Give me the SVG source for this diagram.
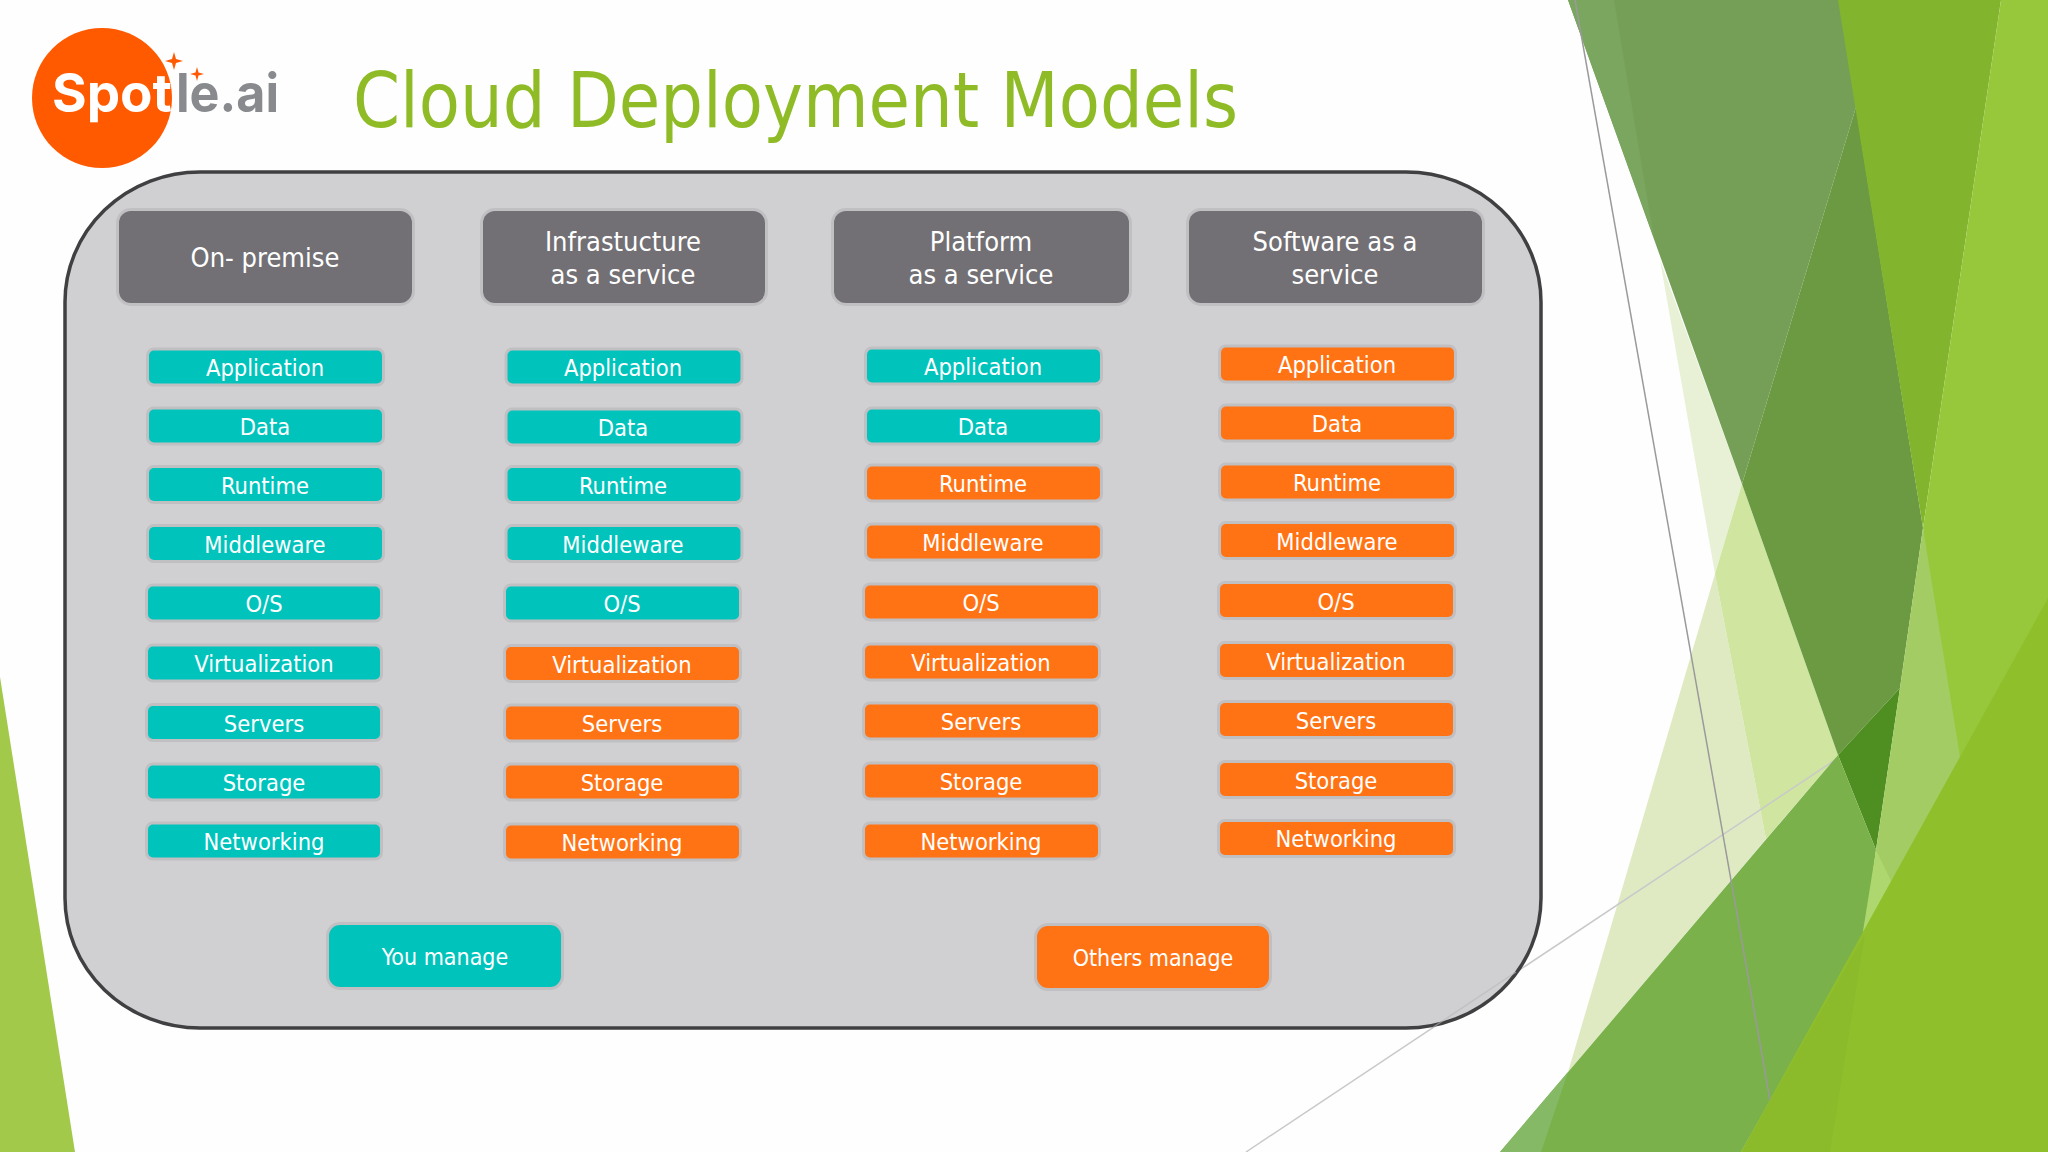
<svg xmlns="http://www.w3.org/2000/svg" width="2048" height="1152" viewBox="0 0 2048 1152">
<style>
text{font-family:"DejaVu Sans","Liberation Sans",sans-serif;font-stretch:condensed;fill:#fff;text-anchor:middle}
.panel{fill:#d0cfd2;stroke:#404042;stroke-width:3.5}
.hd{fill:#727074;stroke:#c0bfc2;stroke-width:6;paint-order:stroke}
.hd-t{font-size:27px}
.t{fill:#00c4bc;stroke:#c0bfc2;stroke-width:6;paint-order:stroke}
.o{fill:#ff7315;stroke:#c0bfc2;stroke-width:6;paint-order:stroke}
.l{font-size:23.5px}
.m{font-size:23px}
.title{font-size:76px;fill:#8fbc26;text-anchor:start}
.logo{font-family:"Inter","Open Sans",sans-serif;font-stretch:normal;font-weight:700;font-size:53px;text-anchor:start}
</style>
<rect width="2048" height="1152" fill="#fefefe"/>
<g id="background">
<polygon points="0,677 75,1152 0,1152" fill="#a2c94a"/>
<polygon points="1660,260 1742,484 1715,574" fill="#e8f1d6"/>
<polygon points="1715,574 1766,839 1568,1072" fill="#dfeac3"/>
<polygon points="1742,484 1715,574 1766,839 1838,755" fill="#cfe5a0"/>
<line x1="1246" y1="1152" x2="1838" y2="758" stroke="#c9c9ca" stroke-width="1.5"/>
<polygon points="1568,0 1839,0 1856,107 1742,484" fill="#759f56"/>
<polygon points="1568,0 1614,0 1654,238" fill="#7ba660"/>
<polygon points="1856,107 1742,484 1838,755 1900,688 1923,528" fill="#6b9a42"/>
<polygon points="1838,755 1900,688 1876,850" fill="#4f8f22"/>
<polygon points="1500,1152 1838,755 1876,850 1865,934 1741,1152" fill="#7ab14a"/>
<polygon points="1500,1152 1568,1072 1541,1152" fill="#85b966"/>
<polygon points="1923,528 1985,757 1865,950 1876,850 1900,688" fill="#a3cc64"/>
<polygon points="1876,850 1895,889 1860,950" fill="#aed86f"/>
<polygon points="1838,0 2001,0 1923,528" fill="#82b42e"/>
<polygon points="2001,0 2048,0 2048,700 1960,757 1923,528" fill="#97c83c"/>
<polygon points="2048,598 1741,1152 2048,1152" fill="#90bf2c"/>
<polygon points="1865,934 1830,1152 1741,1152" fill="#8bbb2b"/>
<line x1="1575" y1="0" x2="1770" y2="1100" stroke="#9a9a9a" stroke-width="1.5"/>
</g>
<g id="panel"><rect class="panel" x="65" y="172" width="1476" height="856" rx="135" ry="130"/></g>
<line id="facet-line-over-panel" x1="1432" y1="1028" x2="1516" y2="972" stroke="#b8b8ba" stroke-width="1.5" stroke-opacity="0.6"/>
<g id="logo">
<ellipse cx="102" cy="98" rx="70" ry="70" fill="#ff5a00"/>
<polygon points="174,52 176,59 183,61 176,63 174,70 172,63 165,61 172,59" fill="#ff5a00"/>
<polygon points="197,67 198.500,72.500 204,74 198.500,75.500 197,81 195.500,75.500 190,74 195.500,72.500" fill="#ff5a00"/>
<text class="logo" x="52" y="112">Spot</text>
<text class="logo" x="176" y="112" textLength="103" lengthAdjust="spacingAndGlyphs" style="fill:#888a8e">le.ai</text>
</g>
<text id="title" class="title" x="353" y="127" textLength="885" lengthAdjust="spacingAndGlyphs">Cloud Deployment Models</text>
<g id="h1"><rect class="hd" x="119" y="211" width="293" height="92" rx="12"/><text class="hd-t" x="265" y="267">On- premise</text></g>
<g id="h2"><rect class="hd" x="483" y="211" width="282" height="92" rx="12"/><text class="hd-t" x="623" y="251">Infrastucture</text><text class="hd-t" x="623" y="284">as a service</text></g>
<g id="h3"><rect class="hd" x="834" y="211" width="295" height="92" rx="12"/><text class="hd-t" x="981" y="251">Platform</text><text class="hd-t" x="981" y="284">as a service</text></g>
<g id="h4"><rect class="hd" x="1189" y="211" width="293" height="92" rx="12"/><text class="hd-t" x="1335" y="251">Software as a</text><text class="hd-t" x="1335" y="284">service</text></g>
<g id="c1-application"><rect class="t" x="149" y="350.500" width="233" height="33" rx="5"/><text class="l" x="265" y="376">Application</text></g>
<g id="c1-data"><rect class="t" x="149" y="409.500" width="233" height="33" rx="5"/><text class="l" x="265" y="435">Data</text></g>
<g id="c1-runtime"><rect class="t" x="149" y="468" width="233" height="33" rx="5"/><text class="l" x="265" y="493.500">Runtime</text></g>
<g id="c1-middleware"><rect class="t" x="149" y="527" width="233" height="33" rx="5"/><text class="l" x="265" y="552.500">Middleware</text></g>
<g id="c1-os"><rect class="t" x="148" y="586.500" width="232" height="33" rx="5"/><text class="l" x="264" y="612">O/S</text></g>
<g id="c1-virtualization"><rect class="t" x="148" y="646.500" width="232" height="33" rx="5"/><text class="l" x="264" y="672">Virtualization</text></g>
<g id="c1-servers"><rect class="t" x="148" y="706" width="232" height="33" rx="5"/><text class="l" x="264" y="731.500">Servers</text></g>
<g id="c1-storage"><rect class="t" x="148" y="765.500" width="232" height="33" rx="5"/><text class="l" x="264" y="791">Storage</text></g>
<g id="c1-networking"><rect class="t" x="148" y="824.500" width="232" height="33" rx="5"/><text class="l" x="264" y="850">Networking</text></g>
<g id="c2-application"><rect class="t" x="507.500" y="350.500" width="233" height="33" rx="5"/><text class="l" x="623" y="376">Application</text></g>
<g id="c2-data"><rect class="t" x="507.500" y="410.500" width="233" height="33" rx="5"/><text class="l" x="623" y="436">Data</text></g>
<g id="c2-runtime"><rect class="t" x="507.500" y="468" width="233" height="33" rx="5"/><text class="l" x="623" y="493.500">Runtime</text></g>
<g id="c2-middleware"><rect class="t" x="507.500" y="527" width="233" height="33" rx="5"/><text class="l" x="623" y="552.500">Middleware</text></g>
<g id="c2-os"><rect class="t" x="506" y="586.500" width="233" height="33" rx="5"/><text class="l" x="622" y="612">O/S</text></g>
<g id="c2-virtualization"><rect class="o" x="506" y="647" width="233" height="33" rx="5"/><text class="l" x="622" y="672.500">Virtualization</text></g>
<g id="c2-servers"><rect class="o" x="506" y="706.500" width="233" height="33" rx="5"/><text class="l" x="622" y="732">Servers</text></g>
<g id="c2-storage"><rect class="o" x="506" y="765.500" width="233" height="33" rx="5"/><text class="l" x="622" y="791">Storage</text></g>
<g id="c2-networking"><rect class="o" x="506" y="825.500" width="233" height="33" rx="5"/><text class="l" x="622" y="851">Networking</text></g>
<g id="c3-application"><rect class="t" x="867" y="349.500" width="233" height="33" rx="5"/><text class="l" x="983" y="375">Application</text></g>
<g id="c3-data"><rect class="t" x="867" y="409.500" width="233" height="33" rx="5"/><text class="l" x="983" y="434.500">Data</text></g>
<g id="c3-runtime"><rect class="o" x="867" y="466.500" width="233" height="33" rx="5"/><text class="l" x="983" y="492">Runtime</text></g>
<g id="c3-middleware"><rect class="o" x="867" y="525.500" width="233" height="33" rx="5"/><text class="l" x="983" y="551">Middleware</text></g>
<g id="c3-os"><rect class="o" x="865" y="585.500" width="233" height="33" rx="5"/><text class="l" x="981" y="611">O/S</text></g>
<g id="c3-virtualization"><rect class="o" x="865" y="645.500" width="233" height="33" rx="5"/><text class="l" x="981" y="671">Virtualization</text></g>
<g id="c3-servers"><rect class="o" x="865" y="704.500" width="233" height="33" rx="5"/><text class="l" x="981" y="730">Servers</text></g>
<g id="c3-storage"><rect class="o" x="865" y="764.500" width="233" height="33" rx="5"/><text class="l" x="981" y="790">Storage</text></g>
<g id="c3-networking"><rect class="o" x="865" y="824.500" width="233" height="33" rx="5"/><text class="l" x="981" y="850">Networking</text></g>
<g id="c4-application"><rect class="o" x="1221" y="347.500" width="233" height="33" rx="5"/><text class="l" x="1337" y="373">Application</text></g>
<g id="c4-data"><rect class="o" x="1221" y="406.500" width="233" height="33" rx="5"/><text class="l" x="1337" y="432">Data</text></g>
<g id="c4-runtime"><rect class="o" x="1221" y="465.500" width="233" height="33" rx="5"/><text class="l" x="1337" y="491">Runtime</text></g>
<g id="c4-middleware"><rect class="o" x="1221" y="524" width="233" height="33" rx="5"/><text class="l" x="1337" y="549.500">Middleware</text></g>
<g id="c4-os"><rect class="o" x="1220" y="584" width="233" height="33" rx="5"/><text class="l" x="1336" y="609.500">O/S</text></g>
<g id="c4-virtualization"><rect class="o" x="1220" y="644" width="233" height="33" rx="5"/><text class="l" x="1336" y="669.500">Virtualization</text></g>
<g id="c4-servers"><rect class="o" x="1220" y="703" width="233" height="33" rx="5"/><text class="l" x="1336" y="728.500">Servers</text></g>
<g id="c4-storage"><rect class="o" x="1220" y="763" width="233" height="33" rx="5"/><text class="l" x="1336" y="788.500">Storage</text></g>
<g id="c4-networking"><rect class="o" x="1220" y="822" width="233" height="33" rx="5"/><text class="l" x="1336" y="847">Networking</text></g>
<g id="you-manage"><rect class="t" x="329" y="925" width="232" height="62" rx="11"/><text class="m" x="445" y="965">You manage</text></g>
<g id="others-manage"><rect class="o" x="1037" y="926" width="232" height="62" rx="11"/><text class="m" x="1153" y="966">Others manage</text></g>
</svg>
